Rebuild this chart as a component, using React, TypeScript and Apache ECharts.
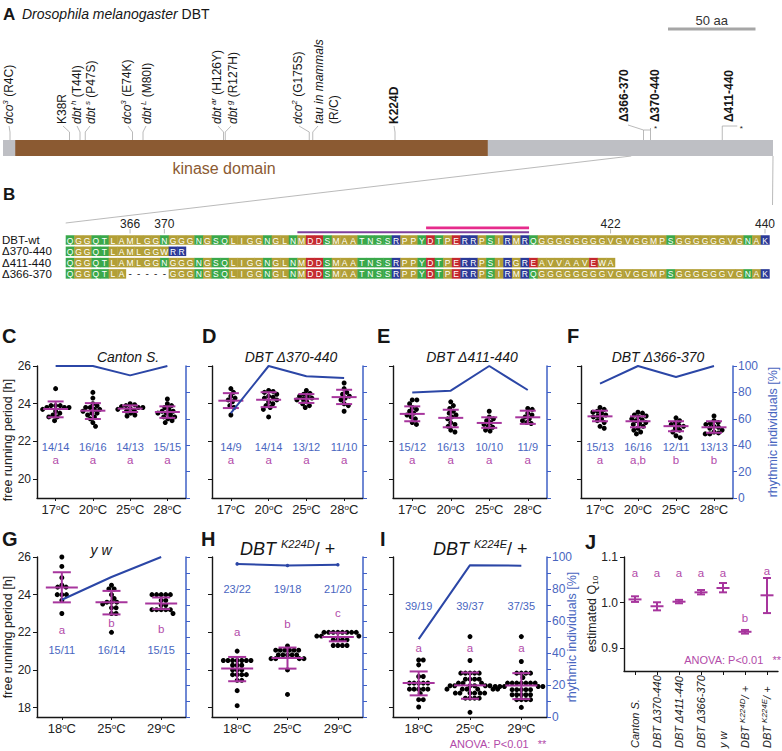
import React, { useEffect, useRef } from 'react';
import * as echarts from 'echarts';

const FONT = '"Liberation Sans", Arial, Helvetica, sans-serif';
const INK = '#161616';
const MAGENTA = '#a7359d';
const MAGENTA_TXT = '#b24aa9';
const BLUE_LINE = '#2b46a6';
const BLUE_AXIS = '#3f60c6';
const BLUE_TXT = '#4966bf';
const BROWN = '#8b5a32';
const GRAY_BAR = '#bebfc4';
const GRAY_LINE = '#a8a8a8';

// ---------------- Panel A : protein map ----------------
const proteinLength = 440;
const kinaseDomain = [7, 277];
const pointMutationPos = [4, 38, 44, 47, 74, 80, 126, 127, 175, 177, 224];
const pointMutationLabels = [
  '{i|dco}{sup|3}{n| (R4C)}',
  '{n|K38R}',
  '{i|dbt}{sup| h}{n| (T44I)}',
  '{i|dbt}{sup| s}{n| (P47S)}',
  '{i|dco}{sup|3}{n| (E74K)}',
  '{i|dbt}{sup| L}{n| (M80I)}',
  '{i|dbt}{sup| ar}{n| (H126Y)}',
  '{i|dbt}{sup| g}{n| (R127H)}',
  '{i|dco}{sup|2}{n| (G175S)}',
  '{i|tau in mammals}\n{n|(R/C)}',
  '{b|K224D}',
];
const deletionPos = [366, 370, 411];
const deletionEnd = [370, 440, 440];
const deletionLabels = ['Δ366-370', 'Δ370-440', 'Δ411-440'];
const scaleBarAa = 50;

// ---------------- Panel B : alignment ----------------
const seqFirstResidue = 359;
const seqRowNames = ['DBT-wt', 'Δ370-440', 'Δ411-440', 'Δ366-370'];
const seqWt = 'QGGQTLAMLGGNGGGNGSQLIGGNGLNMDDSMAATNSSRPPYDTPERRPSIRMRQGGGGGGGGVGVGGMPSGGGGGGVGNAK';
const seqD370 = 'QGGQTLAMLGGWRR';
const seqD411 = 'QGGQTLAMLGGNGGGNGSQLIGGNGLNMDDSMAATNSSRPPYDTPERRPSIRGREAVVAAVEWA';
const seqD366 = 'QGGQTLA-----GGGNGSQLIGGNGLNMDDSMAATNSSRPPYDTPERRPSIRMRQGGGGGGGGVGVGGMPSGGGGGGVGNAK';
const seqMarks = [366, 370, 422, 440];
const motifPurple = [386, 412];
const motifPink = [401, 412];

// ---------------- Panels C-I : free running period ----------------
const tempsRow1 = ['17', '20', '25', '28'];
const tempsRow2 = ['18', '25', '29'];
const periodTicksRow1 = [20, 22, 24, 26];
const periodTicksRow2 = [18, 20, 22, 24, 26];

const cantonPeriods = [
  [24.8, 23.9, 23.9, 23.9, 23.8, 23.8, 23.8, 23.7, 23.6, 23.5, 23.4, 23.3, 23.3, 23.1],
  [24.6, 24.3, 24.0, 23.9, 23.8, 23.8, 23.7, 23.7, 23.6, 23.5, 23.5, 23.4, 23.3, 23.2, 23.0, 22.8],
  [24.0, 23.95, 23.9, 23.85, 23.8, 23.8, 23.75, 23.7, 23.65, 23.6, 23.5, 23.4, 23.35],
  [24.25, 24.0, 23.9, 23.8, 23.7, 23.6, 23.6, 23.5, 23.5, 23.4, 23.3, 23.3, 23.2, 23.1, 23.0],
];
const cantonStats = [[23.72, 23.28, 24.12], [23.63, 23.19, 24.03], [23.74, 23.56, 23.91], [23.56, 23.25, 23.86]];
const cantonRhythmic = [100, 100, 92.9, 100];
const cantonCounts = ['14/14', '16/16', '14/13', '15/15'];
const cantonLetters = ['a', 'a', 'a', 'a'];

const d370Periods = [
  [24.8, 24.6, 24.4, 24.3, 24.2, 24.1, 23.9, 23.8, 23.4],
  [24.7, 24.65, 24.6, 24.5, 24.4, 24.35, 24.3, 24.2, 24.1, 24.0, 23.9, 23.8, 23.7, 23.3],
  [24.7, 24.55, 24.5, 24.4, 24.35, 24.3, 24.25, 24.2, 24.1, 24.0, 23.9, 23.8],
  [25.1, 24.8, 24.6, 24.5, 24.4, 24.3, 24.2, 24.0, 23.9, 23.6],
];
const d370Stats = [[24.16, 23.77, 24.56], [24.21, 23.82, 24.61], [24.26, 24.04, 24.51], [24.35, 23.98, 24.74]];
const d370Rhythmic = [64.3, 100, 92.3, 90.9];
const d370Counts = ['14/9', '14/14', '13/12', '11/10'];
const d370Letters = ['a', 'a', 'a', 'a'];

const d411Periods = [
  [24.2, 24.2, 24.0, 23.8, 23.7, 23.6, 23.5, 23.4, 23.3, 23.2, 23.0, 22.9],
  [24.1, 23.9, 23.75, 23.6, 23.5, 23.4, 23.3, 23.2, 23.0, 22.9, 22.8, 22.6, 22.5],
  [23.6, 23.3, 23.2, 23.1, 23.0, 22.9, 22.8, 22.75, 22.6, 22.55],
  [23.75, 23.7, 23.5, 23.4, 23.3, 23.2, 23.1, 23.0, 22.95],
];
const d411Stats = [[23.46, 23.07, 23.86], [23.25, 22.75, 23.68], [22.98, 22.72, 23.28], [23.28, 22.93, 23.63]];
const d411Rhythmic = [80, 81.3, 100, 81.8];
const d411Counts = ['15/12', '16/13', '10/10', '11/9'];
const d411Letters = ['a', 'a', 'a', 'a'];

const d366Periods = [
  [23.8, 23.7, 23.6, 23.55, 23.5, 23.4, 23.35, 23.3, 23.2, 23.1, 23.0, 22.8, 22.7],
  [23.55, 23.5, 23.4, 23.35, 23.3, 23.2, 23.15, 23.1, 23.0, 22.95, 22.9, 22.8, 22.7, 22.6, 22.5, 22.4],
  [23.25, 23.1, 23.0, 22.9, 22.85, 22.8, 22.7, 22.6, 22.5, 22.3, 22.2],
  [23.35, 23.1, 23.0, 22.95, 22.9, 22.8, 22.75, 22.7, 22.6, 22.5, 22.45, 22.4, 22.4],
];
const d366Stats = [[23.33, 23.07, 23.63], [23.07, 22.75, 23.33], [22.81, 22.54, 23.07], [22.75, 22.46, 23.07]];
const d366Rhythmic = [86.7, 100, 91.7, 100];
const d366Counts = ['15/13', '16/16', '12/11', '13/13'];
const d366Letters = ['a', 'a,b', 'b', 'b'];

const ywPeriods = [
  [26.0, 25.5, 24.9, 24.5, 24.4, 24.4, 24.0, 24.0, 24.0, 23.7, 23.0],
  [24.5, 24.3, 24.3, 24.0, 23.8, 23.6, 23.6, 23.6, 23.5, 23.3, 23.3, 23.0, 23.0, 22.0],
  [24.0, 24.0, 24.0, 24.0, 24.0, 23.7, 23.7, 23.45, 23.45, 23.2, 23.2, 23.2, 23.2, 23.2, 23.0],
];
const ywStats = [[24.38, 23.59, 25.19], [23.59, 22.95, 24.2], [23.53, 23.23, 23.85]];
const ywRhythmic = [73.3, 87.5, 100];
const ywCounts = ['15/11', '16/14', '15/15'];
const ywLetters = ['a', 'b', 'b'];

const k224dPeriods = [
  [21.0, 20.5, 20.5, 20.5, 20.5, 20.5, 20.5, 20.5, 20.25, 20.25, 20.25, 20.0, 20.0, 20.0, 19.75, 19.75, 19.75, 19.75, 19.45, 19.45, 18.9, 18.1],
  [21.27, 21.05, 21.05, 21.05, 21.05, 21.05, 21.05, 20.8, 20.8, 20.8, 20.8, 20.8, 20.6, 20.6, 20.6, 20.6, 20.0, 18.7],
  [22.0, 22.0, 22.0, 22.0, 22.0, 22.0, 22.0, 22.0, 21.8, 21.8, 21.8, 21.8, 21.6, 21.6, 21.6, 21.6, 21.3, 21.3, 21.3, 21.3],
];
const k224dStats = [[20.07, 19.4, 20.69], [20.64, 20.07, 21.19], [21.75, 21.52, 21.98]];
const k224dRhythmic = [95.7, 94.7, 95.2];
const k224dCounts = ['23/22', '19/18', '21/20'];
const k224dLetters = ['a', 'b', 'c'];

const k224ePeriods = [
  [20.53, 20.53, 20.27, 19.65, 19.65, 19.3, 19.3, 19.3, 19.3, 19.3, 18.98, 18.98, 18.98, 18.98, 18.98, 18.75, 18.42, 18.42, 18.03],
  [21.77, 20.5, 19.83, 19.83, 19.83, 19.83, 19.83, 19.51, 19.51, 19.51, 19.51, 19.3, 19.3, 19.3, 19.16, 19.16, 19.16, 19.16, 19.16, 19.16,
    18.98, 18.98, 18.98, 18.98, 18.98, 18.98, 18.77, 18.77, 18.77, 18.77, 18.77, 18.77, 18.5, 18.5, 18.5, 18.5, 17.75],
  [21.77, 20.45, 19.83, 19.83, 19.83, 19.83, 19.6, 19.3, 19.3, 19.3, 19.3, 19.3, 19.3, 19.3, 19.12, 19.12, 19.12, 19.12, 19.12, 19.12,
    18.95, 18.95, 18.95, 18.95, 18.95, 18.68, 18.68, 18.68, 18.68, 18.68, 18.42, 18.42, 18.42, 18.42, 18.01],
];
const k224eStats = [[19.3, 18.65, 19.92], [19.18, 18.47, 19.86], [19.18, 18.45, 19.83]];
const k224eRhythmic = [48.7, 94.9, 94.6];
const k224eCounts = ['39/19', '39/37', '37/35'];
const k224eLetters = ['a', 'a', 'a'];

// ---------------- Panel J : Q10 ----------------
const q10Genotypes = ['Canton S.', 'DBT Δ370-440', 'DBT Δ411-440', 'DBT Δ366-370', 'y w', 'DBT K224D/+', 'DBT K224E/+'];
const q10AxisLabels = [
  '{n|Canton S.}', '{n|DBT Δ370-440}', '{n|DBT Δ411-440}', '{n|DBT Δ366-370}', '{n|y w}',
  '{n|DBT }{s|K224D}{n|/ +}', '{n|DBT }{s|K224E}{n|/ +}',
];
const q10Mean = [1.007, 0.992, 1.002, 1.0225, 1.032, 0.936, 1.016];
const q10Low = [1.0015, 0.983, 0.9985, 1.018, 1.0225, 0.932, 0.977];
const q10High = [1.0138, 1.0007, 1.006, 1.0276, 1.043, 0.94, 1.054];
const q10Letters = ['a', 'a', 'a', 'a', 'a', 'b', 'a'];
const q10Ticks = [0.9, 1.0, 1.1];

// ---------------- layout (pixels / annotation placement) ----------------
const DOT_SIZE = 5;
const DOT_SPACING = 4.6;
const mutTextX = [9, 62, 77, 91, 127, 147, 217, 233, 298, 326, 394];
const mutLinkX = [9, 63, 77, 90, 128, 146, 218, 231, 299, 318, 394];
const delTextX = [624, 655, 729];
const scaleBarStart = 380;
const q10LetterY = [1.064, 1.064, 1.064, 1.064, 1.064, 0.966, 1.069];

const panels = [
  { grid: { left: 37, top: 366, width: 149, height: 132 }, cats: tempsRow1, periods: cantonPeriods, stats: cantonStats, rhythmic: cantonRhythmic, counts: cantonCounts, letters: cantonLetters, yMin: 19, yTicks: periodTicksRow1, yLabels: true, rInterval: 20, rLabels: false, countY: 21.7, letterY: [21.02, 21.02, 21.02, 21.02], mh: 12.5, ch: 8, sym: false },
  { grid: { left: 212, top: 366, width: 151, height: 132 }, cats: tempsRow1, periods: d370Periods, stats: d370Stats, rhythmic: d370Rhythmic, counts: d370Counts, letters: d370Letters, yMin: 19, yTicks: periodTicksRow1, yLabels: false, rInterval: 20, rLabels: false, countY: 21.7, letterY: [21.02, 21.02, 21.02, 21.02], mh: 12.5, ch: 8, sym: false },
  { grid: { left: 393, top: 366, width: 154, height: 132 }, cats: tempsRow1, periods: d411Periods, stats: d411Stats, rhythmic: d411Rhythmic, counts: d411Counts, letters: d411Letters, yMin: 19, yTicks: periodTicksRow1, yLabels: false, rInterval: 20, rLabels: false, countY: 21.7, letterY: [21.02, 21.02, 21.02, 21.02], mh: 12.5, ch: 8, sym: false },
  { grid: { left: 581, top: 366, width: 152, height: 132 }, cats: tempsRow1, periods: d366Periods, stats: d366Stats, rhythmic: d366Rhythmic, counts: d366Counts, letters: d366Letters, yMin: 19, yTicks: periodTicksRow1, yLabels: false, rInterval: 20, rLabels: true, countY: 21.7, letterY: [21.02, 21.02, 21.02, 21.02], mh: 12.5, ch: 8, sym: false },
  { grid: { left: 37, top: 557, width: 149, height: 160 }, cats: tempsRow2, periods: ywPeriods, stats: ywStats, rhythmic: ywRhythmic, counts: ywCounts, letters: ywLetters, yMin: 17.5, yTicks: periodTicksRow2, yLabels: true, rInterval: 10, rLabels: false, countY: 21.06, letterY: [22.12, 22.47, 22.15], mh: 16, ch: 9, sym: false },
  { grid: { left: 212, top: 557, width: 151, height: 160 }, cats: tempsRow2, periods: k224dPeriods, stats: k224dStats, rhythmic: k224dRhythmic, counts: k224dCounts, letters: k224dLetters, yMin: 17.5, yTicks: periodTicksRow2, yLabels: false, rInterval: 10, rLabels: false, countY: 24.3, letterY: [22.0, 22.44, 23.02], mh: 16, ch: 9, sym: true },
  { grid: { left: 393, top: 557, width: 154, height: 160 }, cats: tempsRow2, periods: k224ePeriods, stats: k224eStats, rhythmic: k224eRhythmic, counts: k224eCounts, letters: k224eLetters, yMin: 17.5, yTicks: periodTicksRow2, yLabels: false, rInterval: 10, rLabels: true, countY: 23.4, letterY: [21.17, 21.17, 21.17], mh: 16, ch: 9, sym: false },
];

// ---------------- helpers ----------------
function swarmOffsets(vals: number[], pxPerUnit: number, d: number): number[] {
  const placed: { x: number; y: number }[] = [];
  const out: number[] = [];
  vals.forEach((v) => {
    const y = v * pxPerUnit;
    const cands = [0];
    placed.forEach((p) => {
      const dy = Math.abs(p.y - y);
      if (dy < d) {
        const dx = Math.sqrt(d * d - dy * dy);
        cands.push(p.x + dx, p.x - dx);
      }
    });
    cands.sort((a, b) => Math.abs(a) - Math.abs(b) || b - a);
    let chosen = 0;
    for (const c of cands) {
      if (placed.every((p) => (p.x - c) ** 2 + (p.y - y) ** 2 >= d * d - 1e-6)) {
        chosen = c;
        break;
      }
    }
    placed.push({ x: chosen, y });
    out.push(chosen);
  });
  return out;
}

function fontStr(size: number, italic?: boolean, bold?: boolean) {
  return [italic ? 'italic' : '', bold ? 'bold' : '', `${size}px`, FONT].filter(Boolean).join(' ');
}

function rp(size: number, o: { italic?: boolean; bold?: boolean; color?: string; va?: string; lh?: number } = {}) {
  const color = o.color || INK;
  const r: any = {
    fontSize: size, fontFamily: FONT, fontStyle: o.italic ? 'italic' : 'normal', fontWeight: o.bold ? 'bold' : 'normal',
    fill: color, color,
  };
  if (o.va) r.verticalAlign = o.va;
  if (o.lh) r.lineHeight = o.lh;
  return r;
}

function textStyle(text: string, size: number, o: any = {}) {
  const align = o.align || 'left';
  const va = o.va || 'middle';
  const s: any = {
    text, font: fontStr(size, o.italic, o.bold), fill: o.color || INK,
    align, textAlign: align, verticalAlign: va, textVerticalAlign: va,
  };
  if (o.rich) s.rich = o.rich;
  return s;
}

function gText(x: number, y: number, text: string, size: number, o: any = {}) {
  return { type: 'text', x, y, rotation: o.rotation || 0, silent: true, style: textStyle(text, size, o) };
}

function gLine(x1: number, y1: number, x2: number, y2: number, color = GRAY_LINE, w = 0.8) {
  return { type: 'line', silent: true, shape: { x1, y1, x2, y2 }, style: { stroke: color, lineWidth: w } };
}

function errorBarSeries(xi: number, yi: number, data: number[][], mh: number, ch: number) {
  return {
    type: 'custom', xAxisIndex: xi, yAxisIndex: yi, data, silent: true, z: 4, clip: false,
    renderItem: (_p: any, api: any) => {
      const x = api.value(0);
      const m = api.coord([x, api.value(1)]);
      const lo = api.coord([x, api.value(2)]);
      const hi = api.coord([x, api.value(3)]);
      const st = { stroke: MAGENTA, lineWidth: 2, fill: null };
      return {
        type: 'group',
        children: [
          { type: 'line', shape: { x1: m[0] - mh, y1: m[1], x2: m[0] + mh, y2: m[1] }, style: st },
          { type: 'line', shape: { x1: m[0], y1: hi[1], x2: m[0], y2: lo[1] }, style: st },
          { type: 'line', shape: { x1: m[0] - ch, y1: hi[1], x2: m[0] + ch, y2: hi[1] }, style: st },
          { type: 'line', shape: { x1: m[0] - ch, y1: lo[1], x2: m[0] + ch, y2: lo[1] }, style: st },
        ],
      };
    },
  };
}

function textSeries(xi: number, yi: number, pts: number[][], texts: string[], color: string, size: number) {
  return {
    type: 'custom', xAxisIndex: xi, yAxisIndex: yi, data: pts, silent: true, z: 5, clip: false,
    renderItem: (params: any, api: any) => {
      const c = api.coord([api.value(0), api.value(1)]);
      return { type: 'text', x: c[0], y: c[1], style: textStyle(texts[params.dataIndex], size, { color, align: 'center' }) };
    },
  };
}

function residueColor(ch: string) {
  if ('QNSTY'.includes(ch)) return '#3aa84a';
  if ('DE'.includes(ch)) return '#c4282e';
  if ('RKH'.includes(ch)) return '#2b3a98';
  return '#b29f36';
}

const seqRows = [seqWt, seqD370, seqD411, seqD366];
const seqCells = seqRows.flatMap((s, r) => s.split('').map((ch, i) => ({ res: seqFirstResidue + i, row: r, ch })));

const richA = {
  n: rp(12, { lh: 15 }),
  i: rp(12, { italic: true, lh: 15 }),
  sup: rp(8, { italic: true, va: 'top', lh: 9 }),
  b: rp(12, { bold: true, lh: 15 }),
};

function buildOption() {
  const grids: any[] = [];
  const xAxes: any[] = [];
  const yAxes: any[] = [];
  const series: any[] = [];

  panels.forEach((p, k) => {
    grids.push({ ...p.grid, containLabel: false, outerBoundsMode: 'none' });
    const n = p.cats.length;
    xAxes.push({
      type: 'category', gridIndex: k, data: p.cats, boundaryGap: true,
      axisLine: { show: true, onZero: false, lineStyle: { color: INK, width: 1.4 } },
      axisTick: { show: true, alignWithLabel: true, length: 3, lineStyle: { color: INK, width: 1 } },
      axisLabel: {
        interval: 0, margin: 5, color: '#222', fontSize: 13, fontFamily: FONT,
        formatter: (v: string) => `${v}{o|o}C`,
        rich: { o: { fontSize: 8, fontFamily: FONT, color: '#222', verticalAlign: 'top', lineHeight: 9 } },
      },
      splitLine: { show: false },
    });
    xAxes.push({ type: 'value', gridIndex: k, min: -0.5, max: n - 0.5, show: false });
    yAxes.push({
      type: 'value', gridIndex: k, position: 'left', min: p.yMin, max: 26,
      axisLine: { show: true, onZero: false, lineStyle: { color: INK, width: 1.4 } },
      axisTick: { show: true, length: 4, customValues: p.yTicks, lineStyle: { color: INK } },
      axisLabel: { show: p.yLabels, customValues: p.yTicks, margin: 6, fontSize: 12, color: '#222', fontFamily: FONT },
      splitLine: { show: false },
    });
    yAxes.push({
      type: 'value', gridIndex: k, position: 'right', min: 0, max: 100, interval: p.rInterval,
      axisLine: { show: true, onZero: false, lineStyle: { color: BLUE_AXIS, width: 1.5 } },
      axisTick: { show: true, length: 4, lineStyle: { color: BLUE_AXIS } },
      axisLabel: {
        show: p.rLabels, margin: 5, fontSize: 12, color: BLUE_TXT, fontFamily: FONT,
        formatter: (v: number) => (v % 20 === 0 ? String(v) : ''),
      },
      splitLine: { show: false },
    });
    const xv = 2 * k + 1;
    const yl = 2 * k;
    const yr = 2 * k + 1;
    const pxPerUnit = p.grid.height / (26 - p.yMin);
    const pxPerCat = p.grid.width / n;
    const dots: number[][] = [];
    p.periods.forEach((vals, i) => {
      const offs = swarmOffsets(vals, pxPerUnit, DOT_SPACING);
      vals.forEach((v, j) => dots.push([i + offs[j] / pxPerCat, v]));
    });
    series.push({
      type: 'scatter', xAxisIndex: xv, yAxisIndex: yl, data: dots, symbol: 'circle', symbolSize: DOT_SIZE,
      itemStyle: { color: '#000', opacity: 1 }, silent: true, z: 2,
    });
    series.push(errorBarSeries(xv, yl, p.stats.map((s, i) => [i, s[0], s[1], s[2]]), p.mh, p.ch));
    series.push({
      type: 'line', xAxisIndex: xv, yAxisIndex: yr, data: p.rhythmic.map((v, i) => [i, v]),
      symbol: 'circle', symbolSize: 3.5, showSymbol: p.sym, lineStyle: { color: BLUE_LINE, width: 2 },
      itemStyle: { color: BLUE_LINE }, silent: true, z: 6,
    });
    series.push(textSeries(xv, yl, p.counts.map((_, i) => [i, p.countY]), p.counts, BLUE_TXT, 11));
    series.push(textSeries(xv, yl, p.letters.map((_, i) => [i, p.letterY[i]]), p.letters, MAGENTA_TXT, 11.5));
  });

  // ---- Panel J (grid 7, axes 14) ----
  grids.push({ left: 624, top: 557, width: 154, height: 114, containLabel: false, outerBoundsMode: 'none' });
  xAxes.push({
    type: 'category', gridIndex: 7, data: q10Genotypes, boundaryGap: true,
    axisLine: { show: true, onZero: false, lineStyle: { color: INK, width: 1.4 } },
    axisTick: { show: true, alignWithLabel: true, length: 4, lineStyle: { color: INK } },
    axisLabel: {
      interval: 0, rotate: 90, align: 'left', margin: 77, color: '#222', fontFamily: FONT,
      formatter: (_v: string, i: number) => q10AxisLabels[i],
      rich: {
        n: { fontSize: 11, fontStyle: 'italic', fontFamily: FONT, color: '#222', lineHeight: 14 },
        s: { fontSize: 8, fontStyle: 'italic', fontFamily: FONT, color: '#222', verticalAlign: 'top', lineHeight: 9 },
      },
    },
    splitLine: { show: false },
  });
  yAxes.push({
    type: 'value', gridIndex: 7, position: 'left', min: 0.85, max: 1.1,
    axisLine: { show: true, onZero: false, lineStyle: { color: INK, width: 1.4 } },
    axisTick: { show: true, length: 4, customValues: q10Ticks, lineStyle: { color: INK } },
    axisLabel: { customValues: q10Ticks, margin: 6, fontSize: 12, color: '#222', fontFamily: FONT, formatter: (v: number) => v.toFixed(1) },
    splitLine: { show: false },
  });
  series.push(errorBarSeries(14, 14, q10Mean.map((m, i) => [i, m, q10Low[i], q10High[i]]), 6.5, 4));
  series.push(textSeries(14, 14, q10Letters.map((_, i) => [i, q10LetterY[i]]), q10Letters, MAGENTA_TXT, 11.5));

  // ---- Panel A (grid 8, axes 15) ----
  grids.push({ left: 3, top: 140, width: 770, height: 16, containLabel: false, outerBoundsMode: 'none' });
  xAxes.push({ type: 'value', gridIndex: 8, min: 0, max: proteinLength, show: false });
  yAxes.push({ type: 'value', gridIndex: 8, min: 0, max: 1, show: false });
  series.push({
    type: 'custom', xAxisIndex: 15, yAxisIndex: 15, silent: true, clip: false, z: 2,
    data: [[0, proteinLength, 0.5], [kinaseDomain[0], kinaseDomain[1], 0.5]],
    encode: { x: [0, 1], y: 2 },
    renderItem: (params: any, api: any) => {
      const a = api.coord([api.value(0), 1]);
      const b = api.coord([api.value(1), 0]);
      return {
        type: 'rect', shape: { x: a[0], y: a[1], width: b[0] - a[0], height: b[1] - a[1] },
        style: { fill: params.dataIndex === 0 ? GRAY_BAR : BROWN },
      };
    },
  });
  series.push({
    type: 'custom', xAxisIndex: 15, yAxisIndex: 15, silent: true, clip: false, z: 3,
    data: pointMutationPos.map((p) => [p, 1]),
    renderItem: (params: any, api: any) => {
      const i = params.dataIndex;
      const c = api.coord([api.value(0), 1]);
      const top = c[1];
      return {
        type: 'group',
        children: [
          {
            type: 'polyline',
            shape: { points: [[c[0], top], [c[0], top - 8], [mutLinkX[i], top - 14]] },
            style: { stroke: GRAY_LINE, lineWidth: 0.8, fill: null },
          },
          {
            type: 'text', x: mutTextX[i], y: top - 16, rotation: Math.PI / 2,
            style: textStyle(pointMutationLabels[i], 12, { rich: richA, align: 'left' }),
          },
        ],
      };
    },
  });
  series.push({
    type: 'custom', xAxisIndex: 15, yAxisIndex: 15, silent: true, clip: false, z: 3,
    data: deletionPos.map((p, i) => [p, deletionEnd[i], 1]),
    encode: { x: [0, 1], y: 2 },
    renderItem: (params: any, api: any) => {
      const i = params.dataIndex;
      const c = api.coord([api.value(0), 1]);
      const top = c[1];
      const children: any[] = [];
      const st = { stroke: GRAY_LINE, lineWidth: 0.8, fill: null };
      if (i === 0) {
        const e = api.coord([deletionPos[1], 1]);
        children.push({ type: 'polyline', shape: { points: [[c[0], top], [c[0], top - 10], [e[0], top - 10]] }, style: st });
        children.push({ type: 'line', shape: { x1: c[0], y1: top - 10, x2: delTextX[0] + 4, y2: top - 15 }, style: st });
      } else if (i === 1) {
        children.push({ type: 'line', shape: { x1: c[0], y1: top, x2: c[0], y2: top - 12 }, style: st });
        children.push({ type: 'text', x: c[0] + 5, y: top - 12, style: textStyle('*', 8, { align: 'center' }) });
      } else {
        children.push({ type: 'polyline', shape: { points: [[c[0], top], [c[0], top - 14], [c[0] + 15, top - 14]] }, style: st });
        children.push({ type: 'text', x: c[0] + 19, y: top - 12, style: textStyle('*', 8, { align: 'center' }) });
      }
      children.push({
        type: 'text', x: delTextX[i], y: top - 18, rotation: Math.PI / 2,
        style: textStyle(`{b|${deletionLabels[i]}}`, 12, { rich: richA, align: 'left' }),
      });
      return { type: 'group', children };
    },
  });
  series.push({
    type: 'custom', xAxisIndex: 15, yAxisIndex: 15, silent: true, clip: false, z: 3,
    data: [[scaleBarStart, scaleBarStart + scaleBarAa, 1]],
    encode: { x: [0, 1], y: 2 },
    renderItem: (_params: any, api: any) => {
      const a = api.coord([api.value(0), 1]);
      const b = api.coord([api.value(1), 1]);
      const y = a[1] - 111;
      return {
        type: 'group',
        children: [
          { type: 'line', shape: { x1: a[0], y1: y, x2: b[0], y2: y }, style: { stroke: '#a6a6a6', lineWidth: 3 } },
          { type: 'text', x: (a[0] + b[0]) / 2, y: y - 9, style: textStyle(`${scaleBarAa} aa`, 13, { align: 'center', color: '#333' }) },
        ],
      };
    },
  });

  // ---- Panel B (grid 9, axes 16) ----
  grids.push({ left: 65.7, top: 234.35, width: 703.6, height: 45.2, containLabel: false, outerBoundsMode: 'none' });
  xAxes.push({ type: 'value', gridIndex: 9, min: seqFirstResidue - 0.5, max: seqFirstResidue + seqWt.length - 0.5, show: false });
  yAxes.push({ type: 'value', gridIndex: 9, min: -0.5, max: 3.5, inverse: true, show: false });
  series.push({
    type: 'custom', xAxisIndex: 16, yAxisIndex: 16, silent: true, clip: false, z: 2,
    data: seqCells.map((c) => [c.res, c.row]),
    renderItem: (params: any, api: any) => {
      const cell = seqCells[params.dataIndex];
      const c = api.coord([api.value(0), api.value(1)]);
      const w = api.size([1, 0])[0];
      if (cell.ch === '-') {
        return { type: 'text', x: c[0], y: c[1], style: textStyle('-', 10, { align: 'center', color: '#333' }) };
      }
      return {
        type: 'group',
        children: [
          { type: 'rect', shape: { x: c[0] - w / 2, y: c[1] - 4.75, width: w + 0.4, height: 9.5 }, style: { fill: residueColor(cell.ch) } },
          { type: 'text', x: c[0], y: c[1] + 0.5, style: textStyle(cell.ch, 8.5, { align: 'center', color: '#ffffff' }) },
        ],
      };
    },
  });
  series.push({
    type: 'custom', xAxisIndex: 16, yAxisIndex: 16, silent: true, clip: false, z: 2,
    data: seqMarks.map((m) => [m, 0]),
    renderItem: (params: any, api: any) => {
      const c = api.coord([api.value(0), 0]);
      return {
        type: 'group',
        children: [
          { type: 'text', x: c[0], y: c[1] - 16, style: textStyle(String(seqMarks[params.dataIndex]), 12, { align: 'center', color: '#222' }) },
          { type: 'line', shape: { x1: c[0], y1: c[1] - 11, x2: c[0], y2: c[1] - 6.5 }, style: { stroke: GRAY_LINE, lineWidth: 0.8 } },
        ],
      };
    },
  });
  series.push({
    type: 'custom', xAxisIndex: 16, yAxisIndex: 16, silent: true, clip: false, z: 3,
    data: [[motifPurple[0], motifPurple[1], 0], [motifPink[0], motifPink[1], 0]],
    encode: { x: [0, 1], y: 2 },
    renderItem: (params: any, api: any) => {
      const a = api.coord([api.value(0) - 0.5, 0]);
      const b = api.coord([api.value(1) + 0.5, 0]);
      const purple = params.dataIndex === 0;
      const y = a[1] + (purple ? -7.8 : -12.2);
      return {
        type: 'line', shape: { x1: a[0], y1: y, x2: b[0], y2: y },
        style: { stroke: purple ? '#7e3f9c' : '#e62b8c', lineWidth: purple ? 2 : 2.8 },
      };
    },
  });

  // ---- free graphics: letters, titles, axis names ----
  const richTitle = { d: rp(18, { italic: true, lh: 21 }), u: rp(18, { lh: 21 }), s: rp(11, { italic: true, va: 'top', lh: 12 }) };
  const graphic: any[] = [
    gText(3, 14, 'A', 17, { bold: true }),
    gText(22, 14, '{i|Drosophila melanogaster} {n|DBT}', 14, { rich: { i: rp(14, { italic: true }), n: rp(14) } }),
    gText(224, 168, 'kinase domain', 16, { align: 'center', color: BROWN }),
    gLine(3 + seqFirstResidue * 1.75, 156, 65.7, 223),
    gLine(773, 156, 772.5, 205),
    gText(3, 194, 'B', 17, { bold: true }),
    ...seqRowNames.map((nm, r) => gText(2, 240 + r * 11.3, nm, 11.5, { color: '#111' })),
    gText(2, 336, 'C', 20, { bold: true }),
    gText(202, 336, 'D', 20, { bold: true }),
    gText(377, 336, 'E', 20, { bold: true }),
    gText(567, 336, 'F', 20, { bold: true }),
    gText(2, 539, 'G', 20, { bold: true }),
    gText(201, 539, 'H', 20, { bold: true }),
    gText(380, 539, 'I', 20, { bold: true }),
    gText(585, 542, 'J', 20, { bold: true }),
    gText(128, 357, 'Canton S.', 14, { italic: true, align: 'center' }),
    gText(291, 357, 'DBT Δ370-440', 14, { italic: true, align: 'center' }),
    gText(472, 357, 'DBT Δ411-440', 14, { italic: true, align: 'center' }),
    gText(658, 357, 'DBT Δ366-370', 14, { italic: true, align: 'center' }),
    gText(101, 550, 'y w', 14, { italic: true, align: 'center' }),
    gText(240, 549, '{d|DBT }{s|K224D}{u|/ +}', 18, { rich: richTitle }),
    gText(433, 549, '{d|DBT }{s|K224E}{u|/ +}', 18, { rich: richTitle }),
    gText(8, 440, 'free running period [h]', 12.5, { align: 'center', rotation: Math.PI / 2, color: '#222' }),
    gText(8, 637, 'free running period [h]', 12.5, { align: 'center', rotation: Math.PI / 2, color: '#222' }),
    gText(773, 432, 'rhythmic individuals [%]', 12.5, { align: 'center', rotation: Math.PI / 2, color: BLUE_TXT }),
    gText(572, 637, 'rhythmic individuals [%]', 12.5, { align: 'center', rotation: Math.PI / 2, color: BLUE_TXT }),
    gText(592, 614, '{n|estimated Q}{b|10}', 12.5, {
      align: 'center', rotation: Math.PI / 2,
      rich: { n: rp(12.5, { color: '#222', lh: 15 }), b: rp(8, { color: '#222', va: 'bottom', lh: 9 }) },
    }),
    gText(781, 660, 'ANOVA: P<0.01   **', 11, { align: 'right', color: MAGENTA_TXT }),
    gText(498, 744, 'ANOVA: P<0.01   **', 11, { align: 'center', color: MAGENTA_TXT }),
  ];

  return {
    animation: false,
    backgroundColor: '#ffffff',
    textStyle: { fontFamily: FONT },
    grid: grids,
    xAxis: xAxes,
    yAxis: yAxes,
    series,
    graphic,
  };
}

export default function App() {
  const ref = useRef<HTMLDivElement>(null);
  useEffect(() => {
    document.body.style.margin = '0';
    if (!ref.current) return;
    const chart = echarts.init(ref.current, undefined, { renderer: 'svg' });
    chart.setOption(buildOption() as any);
    return () => chart.dispose();
  }, []);
  return <div ref={ref} style={{ width: 782, height: 751 }} />;
}
